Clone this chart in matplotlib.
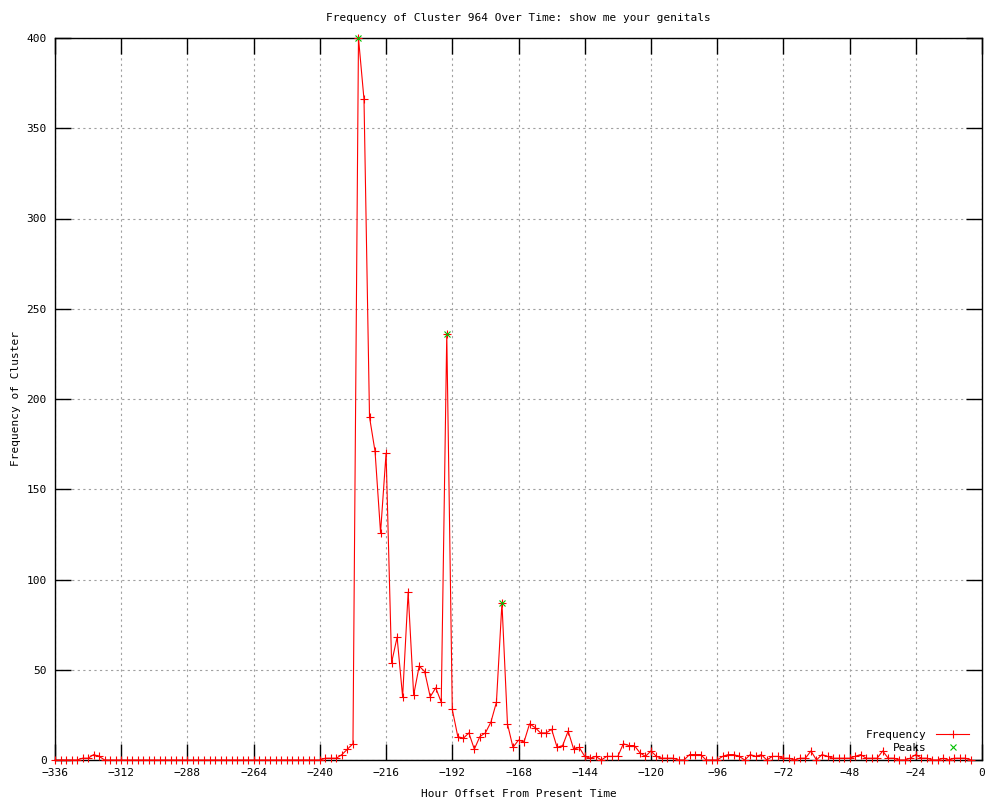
import matplotlib
matplotlib.use("Agg")
import matplotlib.pyplot as plt

# hourly offsets, one sample every 2 hours
hours = list(range(-336, -2, 2))

freq = (
    [0, 0, 0, 0, 0, 1, 1, 3, 2]          # -336 .. -320
    + [0] * 40                           # -318 .. -240
    + [1, 1, 1, 3, 6, 9]                 # -238 .. -228
    + [400, 366, 190, 171, 126, 170, 54, 68, 35, 93, 36, 52, 49, 35, 40, 32,
       236, 28, 13, 12, 15, 6, 13, 15, 21, 32, 87, 20, 7, 11, 10, 20, 18, 15,
       15, 17, 7, 8, 16, 6, 7]           # -226 .. -146
    + [2, 1, 2, 0, 2, 2, 2, 9, 8, 8, 4, 2, 5, 2, 1, 1, 1, 0, 0, 3, 3, 3,
       0, 0, 0, 2, 3, 3, 2, 0, 3, 2, 3, 0, 2, 2, 1, 1, 0, 1, 1, 5, 0, 3,
       2, 1, 1, 1, 1, 2, 3, 1, 1, 1, 5, 1, 1, 0, 0, 1, 3, 1, 1, 0, 0, 1,
       0, 1, 1, 1, 0]                    # -144 .. -4
)

peak_hours = [-226, -194, -174]
peak_vals = [400, 236, 87]

title = "Frequency of Cluster 964 Over Time: show me your genitals"
xticks = list(range(-336, 1, 24))
yticks = list(range(0, 401, 50))

plt.rcParams['font.family'] = ['DejaVu Sans Mono']
plt.rcParams['font.size'] = 8

fig = plt.figure(figsize=(10, 8), dpi=100)
ax = fig.add_axes([0.055, 0.05, 0.927, 0.9025])

ax.plot(hours, freq, color='#ff0000', lw=0.8, marker='+', ms=6, mew=0.8,
        clip_on=False, zorder=3, label='Frequency')
ax.plot(peak_hours, peak_vals, ls='none', color='#00c000', marker='x', ms=5,
        mew=0.8, clip_on=False, zorder=4, label='Peaks')

ax.set_xlim(-336, 0)
ax.set_ylim(0, 400)
ax.set_xticks(xticks)
ax.set_yticks(yticks)
ax.grid(True, color='#a0a0a0', ls=(0, (2, 3)), lw=0.8)
ax.tick_params(direction='in', length=11.5, width=1, top=True, right=True,
               labelsize=8, pad=6)
for s in ax.spines.values():
    s.set_linewidth(1)

ax.set_title(title, fontsize=8, pad=12)
ax.set_xlabel("Hour Offset From Present Time", fontsize=8, labelpad=8)
ax.set_ylabel("Frequency of Cluster", fontsize=8, labelpad=4)

ax.legend(loc='lower right', bbox_to_anchor=(0.997, -0.004), frameon=False,
          markerfirst=False, fontsize=8, handlelength=3, labelspacing=0.25,
          numpoints=1)

fig.savefig("out.png", dpi=100)
